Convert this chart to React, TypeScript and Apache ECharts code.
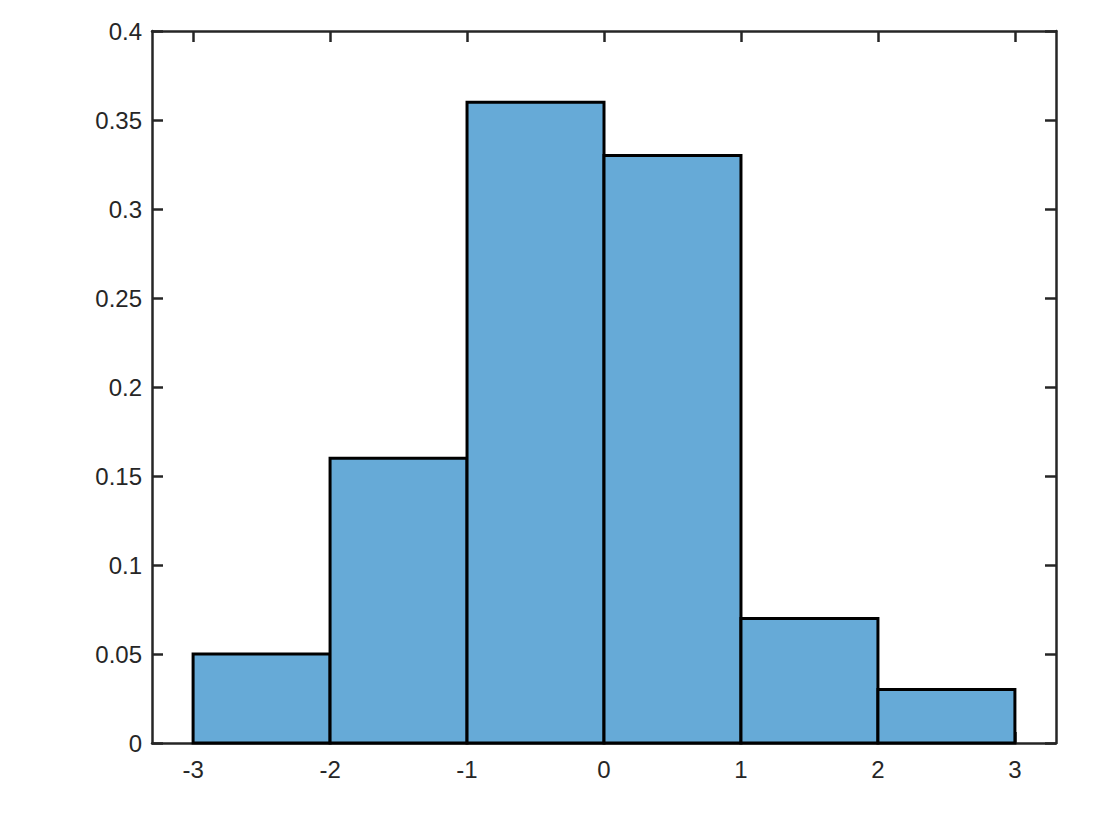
import React, { useEffect, useRef } from "react";
import * as echarts from "echarts";

const binEdges = [-3, -2, -1, 0, 1, 2, 3];
const binValues = [0.05, 0.16, 0.36, 0.33, 0.07, 0.03];
const xTicks = [-3, -2, -1, 0, 1, 2, 3];
const yTicks = [0, 0.05, 0.1, 0.15, 0.2, 0.25, 0.3, 0.35, 0.4];

export default function App() {
  const ref = useRef<HTMLDivElement>(null);
  useEffect(() => {
    if (!ref.current) return;
    const chart = echarts.init(ref.current, null, { renderer: "svg" });
    const data = binValues.map((v, i) => [binEdges[i], binEdges[i + 1], v]);
    const axisColor = "#262626";
    const font = "'Liberation Sans', Arial, Helvetica, sans-serif";
    const xCommon = {
      type: "value" as const,
      min: -3.3,
      max: 3.3,
      splitLine: { show: false },
      axisLine: { show: true, onZero: false, lineStyle: { color: axisColor, width: 2.5 } },
    };
    const yCommon = {
      type: "value" as const,
      min: 0,
      max: 0.4,
      interval: 0.05,
      splitLine: { show: false },
      axisLine: { show: true, onZero: false, lineStyle: { color: axisColor, width: 2.5 } },
    };
    chart.setOption({
      animation: false,
      backgroundColor: "#ffffff",
      grid: { left: 152, right: 64, top: 31, bottom: 97 },
      xAxis: [
        {
          ...xCommon,
          position: "bottom",
          axisTick: { show: true, inside: true, length: 11, customValues: xTicks, lineStyle: { color: axisColor, width: 2.5 } },
          axisLabel: { show: true, customValues: xTicks, margin: 14, color: axisColor, fontSize: 24, fontFamily: font },
        },
        {
          ...xCommon,
          position: "top",
          axisTick: { show: true, inside: true, length: 11, customValues: xTicks, lineStyle: { color: axisColor, width: 2.5 } },
          axisLabel: { show: false },
        },
      ],
      yAxis: [
        {
          ...yCommon,
          position: "left",
          axisTick: { show: true, inside: true, length: 11, customValues: yTicks, lineStyle: { color: axisColor, width: 2.5 } },
          axisLabel: {
            show: true,
            customValues: yTicks,
            margin: 10,
            color: axisColor,
            fontSize: 24,
            fontFamily: font,
            formatter: (v: number) => String(Math.round(v * 100) / 100),
          },
        },
        {
          ...yCommon,
          position: "right",
          axisTick: { show: true, inside: true, length: 11, customValues: yTicks, lineStyle: { color: axisColor, width: 2.5 } },
          axisLabel: { show: false },
        },
      ],
      series: [
        {
          type: "custom",
          xAxisIndex: 0,
          yAxisIndex: 0,
          data,
          encode: { x: [0, 1], y: 2 },
          renderItem: (params: any, api: any) => {
            const p0 = api.coord([api.value(0), 0]);
            const p1 = api.coord([api.value(1), api.value(2)]);
            return {
              type: "rect",
              shape: { x: p0[0], y: p1[1], width: p1[0] - p0[0], height: p0[1] - p1[1] },
              style: { fill: "#66aad7", stroke: "#000000", lineWidth: 3 },
            };
          },
        },
      ],
    });
    return () => chart.dispose();
  }, []);
  return (
    <div
      ref={ref}
      style={{ position: "fixed", left: 0, top: 0, width: 1120, height: 840, background: "#fff" }}
    />
  );
}
